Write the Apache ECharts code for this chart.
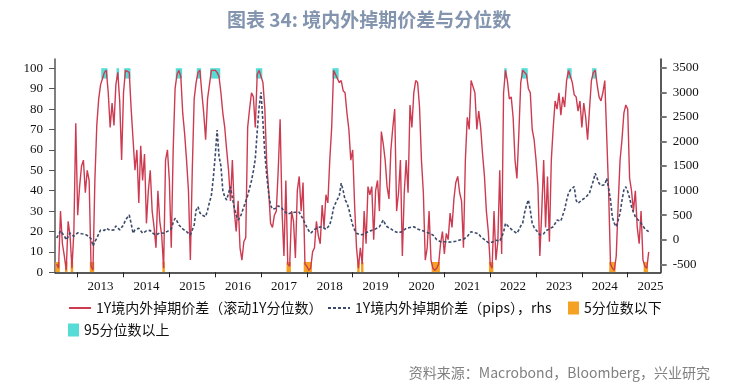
<!DOCTYPE html>
<html><head><meta charset="utf-8">
<script src="https://cdn.jsdelivr.net/npm/echarts@6/dist/echarts.min.js"></script>
<style>html,body{margin:0;padding:0;background:#fff}#c{width:747px;height:382px}</style>
</head><body><div id="c"></div>
<script>
// Semi-monthly samples (24 per year). 2012 starts at index 13 (early July 2012).
const firstYear = 2012;
const firstIndex = 13;
const stepsPerYear = 24;

// 1Y onshore/offshore swap spread, rolling 1Y percentile (left axis)
const pct2012 = [4, 2, 30, 14, 8, 1, 25, 18, 2, 20, 73];
const pct2013 = [28, 42, 52, 55, 39, 50, 45, 3, 1, 45, 72, 85, 92, 95, 98, 99, 88, 71, 83, 72, 92, 98, 84, 55];
const pct2014 = [88, 99, 99, 98, 80, 65, 50, 60, 34, 62, 45, 58, 24, 40, 50, 30, 22, 12, 40, 25, 18, 2, 55, 60];
const pct2015 = [45, 12, 60, 90, 97, 99, 96, 78, 68, 55, 40, 6, 50, 85, 93, 98, 99, 88, 78, 65, 85, 92, 99, 99];
const pct2016 = [99, 98, 96, 88, 78, 71, 60, 50, 35, 55, 30, 20, 35, 12, 6, 15, 17, 71, 80, 88, 86, 71, 97, 99];
const pct2017 = [99, 93, 80, 53, 40, 24, 22, 28, 30, 50, 75, 30, 8, 45, 4, 3, 30, 25, 7, 40, 47, 30, 44, 4];
const pct2018 = [3, 1, 2, 10, 12, 25, 18, 14, 33, 22, 38, 34, 55, 71, 99, 99, 95, 93, 94, 89, 88, 78, 70, 55];
const pct2019 = [60, 33, 12, 2, 12, 4, 30, 14, 42, 38, 42, 16, 40, 45, 30, 69, 63, 55, 42, 36, 60, 71, 80, 30];
const pct2020 = [39, 55, 8, 39, 55, 39, 82, 71, 88, 94, 93, 81, 55, 39, 6, 12, 30, 6, 2, 1, 2, 4, 14, 20];
const pct2021 = [9, 19, 16, 29, 22, 36, 44, 47, 39, 35, 12, 55, 76, 70, 94, 94, 88, 70, 79, 71, 58, 47, 30, 20];
const pct2022 = [4, 2, 30, 6, 15, 50, 9, 88, 99, 94, 85, 86, 76, 55, 46, 68, 93, 99, 98, 97, 90, 88, 70, 65];
const pct2023 = [55, 42, 8, 30, 55, 22, 47, 15, 55, 71, 84, 80, 88, 77, 86, 81, 94, 99, 99, 93, 87, 86, 79, 84];
const pct2024 = [71, 83, 76, 65, 80, 94, 98, 99, 92, 86, 84, 88, 94, 94, 40, 4, 2, 1, 8, 33, 55, 65, 78, 82];
const pct2025 = [80, 46, 40, 30, 40, 22, 14, 30, 6, 3, 2, 10];

// 1Y onshore/offshore swap spread in pips (right axis)
const pips2012 = [35, 100, 180, 190, 80, -5, 60, 137, 100, 70, 100];
const pips2013 = [140, 163, 120, 96, 110, 80, 62, 20, -130, -40, 29, 120, 198, 210, 190, 233, 210, 190, 163, 200, 280, 250, 200, 163];
const pips2014 = [300, 401, 420, 503, 330, 131, 200, 180, 233, 180, 131, 160, 180, 198, 190, 140, 120, 96, 120, 140, 110, 131, 150, 170];
const pips2015 = [163, 220, 350, 436, 380, 300, 265, 220, 180, 163, 130, 96, 110, 300, 600, 672, 550, 500, 480, 469, 600, 760, 900, 1250];
const pips2016 = [1700, 2233, 1700, 1500, 1000, 870, 809, 950, 1079, 850, 650, 500, 401, 450, 550, 672, 780, 900, 1050, 1200, 1400, 1650, 2200, 2700];
const pips2017 = [3000, 2400, 1750, 1300, 945, 700, 620, 600, 640, 690, 672, 640, 580, 540, 520, 540, 550, 538, 560, 571, 560, 520, 420, 334];
const pips2018 = [250, 180, 131, 170, 210, 233, 250, 240, 265, 250, 210, 220, 300, 450, 650, 741, 780, 900, 1150, 1000, 809, 750, 620, 450];
const pips2019 = [300, 200, 131, 110, 100, 96, 110, 140, 163, 170, 190, 198, 220, 240, 265, 330, 401, 320, 265, 240, 220, 198, 170, 150];
const pips2020 = [140, 131, 170, 200, 233, 240, 250, 260, 265, 240, 220, 198, 190, 175, 163, 150, 130, 110, 96, 50, 0, -30, -40, -45];
const pips2021 = [-40, -40, -50, -40, -45, -40, -30, -15, -5, 0, 10, 29, 60, 120, 163, 160, 140, 131, 120, 62, 30, 0, -30, -60];
const pips2022 = [-73, -50, -30, -10, -5, -30, -40, 150, 334, 300, 250, 233, 180, 140, 131, 200, 280, 334, 550, 700, 809, 600, 334, 250];
const pips2023 = [198, 150, 100, 62, 120, 180, 198, 220, 250, 265, 330, 400, 436, 380, 420, 620, 800, 950, 1012, 1050, 1079, 800, 741, 780];
const pips2024 = [809, 830, 860, 876, 950, 1079, 1200, 1352, 1250, 1148, 1100, 1079, 1120, 1250, 1050, 809, 450, 334, 265, 400, 538, 800, 1012, 1079];
const pips2025 = [980, 850, 672, 560, 469, 420, 380, 334, 280, 220, 198, 163];

// thresholds for the highlight bands
const lowThreshold = 5;
const highThreshold = 95;

// axes
const yearTicks = [2013, 2014, 2015, 2016, 2017, 2018, 2019, 2020, 2021, 2022, 2023, 2024, 2025];
const yearLabels = ['2013', '2014', '2015', '2016', '2017', '2018', '2019', '2020', '2021', '2022', '2023', '2024', '2025'];
const leftTicks = [0, 10, 20, 30, 40, 50, 60, 70, 80, 90, 100];
const rightTicks = [-500, 0, 500, 1000, 1500, 2000, 2500, 3000, 3500];

const pctYears = [pct2012, pct2013, pct2014, pct2015, pct2016, pct2017, pct2018, pct2019, pct2020, pct2021, pct2022, pct2023, pct2024, pct2025];
const pipsYears = [pips2012, pips2013, pips2014, pips2015, pips2016, pips2017, pips2018, pips2019, pips2020, pips2021, pips2022, pips2023, pips2024, pips2025];

const pctData = [], pipsData = [], lowData = [], highData = [];
pctYears.forEach((arr, yi) => {
  const yr = firstYear + yi;
  const off = yi === 0 ? firstIndex : 0;
  arr.forEach((v, i) => {
    const t = yr + (i + off) / stepsPerYear;
    pctData.push([t, v]);
    pipsData.push([t, pipsYears[yi][i]]);
    if (v <= lowThreshold) lowData.push([t, 0, lowThreshold]);
    if (v >= highThreshold) highData.push([t, highThreshold, 100]);
  });
});

function bandItem(params, api) {
  const t = api.value(0);
  const half = 1 / stepsPerYear / 2;
  const p0 = api.coord([t - half, api.value(2)]);
  const p1 = api.coord([t + half, api.value(1)]);
  return {type: 'rect', shape: {x: p0[0] - 0.3, y: p0[1], width: p1[0] - p0[0] + 0.6, height: p1[1] - p0[1]},
          style: {fill: api.visual('color')}};
}

const labelFont = {fontFamily: 'Liberation Serif', fontSize: 13, color: '#111'};
const legendText = {fontFamily: 'Noto Sans CJK SC', fontSize: 14, color: '#111'};

const chart = echarts.init(document.getElementById('c'), null, {renderer: 'canvas'});
chart.setOption({
  animation: false,
  backgroundColor: '#fff',
  title: [
    {text: '图表 34: 境内外掉期价差与分位数', left: 222, top: 5,
     textStyle: {fontFamily: 'Noto Sans CJK SC', fontSize: 19, fontWeight: 'bold', color: '#8394ae'}},
    {text: '资料来源：Macrobond，Bloomberg，兴业研究', right: 32, top: 361,
     textStyle: {fontFamily: 'Noto Sans CJK SC', fontSize: 14, fontWeight: 'normal', color: '#808080'}}
  ],
  grid: {left: 55, right: 86.3, top: 59, bottom: 109.7, containLabel: false},
  xAxis: {
    type: 'value', min: 2012.505, max: 2025.72,
    axisLine: {show: true, onZero: false, lineStyle: {color: '#222', width: 1.5}},
    axisTick: {show: true, length: 5, customValues: yearTicks, lineStyle: {color: '#222'}},
    axisLabel: Object.assign({customValues: yearTicks.map(y => y + 0.5), margin: 8,
      formatter: v => yearLabels[yearTicks.indexOf(Math.floor(v))]}, labelFont),
    splitLine: {show: false}
  },
  yAxis: [
    {type: 'value', min: 0, max: 104.56, position: 'left',
     axisLine: {show: true, lineStyle: {color: '#555', width: 1.5}},
     axisTick: {show: true, inside: false, length: 6, customValues: leftTicks, lineStyle: {color: '#555'}},
     axisLabel: Object.assign({customValues: leftTicks, margin: 12, formatter: v => String(v)}, labelFont),
     splitLine: {show: false}},
    {type: 'value', min: -663, max: 3677, position: 'right',
     axisLine: {show: true, lineStyle: {color: '#222', width: 1.5}},
     axisTick: {show: true, inside: false, length: 6, customValues: rightTicks, lineStyle: {color: '#777', width: 2}},
     axisLabel: Object.assign({customValues: rightTicks, margin: 12, formatter: v => String(v)}, labelFont),
     splitLine: {show: false}}
  ],
  legend: [
    {data: ['1Y境内外掉期价差（滚动1Y分位数）'], left: 63, top: 296, itemWidth: 22, itemHeight: 14, selectedMode: false,
     itemStyle: {opacity: 0}, textStyle: legendText},
    {data: ['1Y境内外掉期价差（pips），rhs'], left: 322, top: 296, itemWidth: 22, itemHeight: 14, selectedMode: false,
     itemStyle: {opacity: 0}, textStyle: legendText},
    {data: [{name: '5分位数以下', icon: 'rect'}], left: 563, top: 296, itemWidth: 11, itemHeight: 13, selectedMode: false, textStyle: legendText},
    {data: [{name: '95分位数以上', icon: 'rect'}], left: 63, top: 318, itemWidth: 11, itemHeight: 13, selectedMode: false, textStyle: legendText}
  ],
  series: [
    {name: '5分位数以下', type: 'custom', renderItem: bandItem, data: lowData,
     encode: {x: 0, y: [1, 2]}, itemStyle: {color: '#f5a223'}, z: 1, clip: true},
    {name: '95分位数以上', type: 'custom', renderItem: bandItem, data: highData,
     encode: {x: 0, y: [1, 2]}, itemStyle: {color: '#55dcd6'}, z: 1, clip: true},
    {name: '1Y境内外掉期价差（滚动1Y分位数）', type: 'line', data: pctData, yAxisIndex: 0,
     symbol: 'none', lineStyle: {color: '#cd3b51', width: 1.4}, itemStyle: {color: '#cd3b51'}, z: 3},
    {name: '1Y境内外掉期价差（pips），rhs', type: 'line', data: pipsData, yAxisIndex: 1,
     symbol: 'none', lineStyle: {color: '#3b4a6a', width: 1.6, type: [3, 2]}, itemStyle: {color: '#3b4a6a'}, z: 4}
  ]
});
</script></body></html>
